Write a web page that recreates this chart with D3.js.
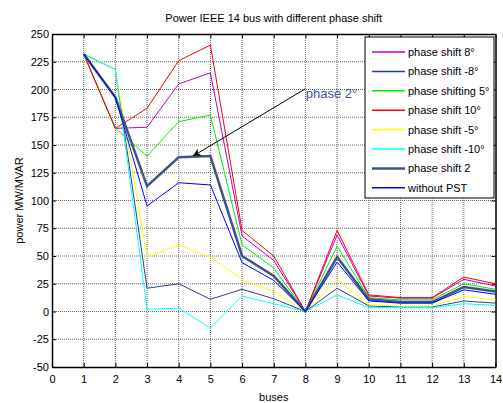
<!DOCTYPE html>
<html>
<head>
<meta charset="utf-8">
<script src="https://cdnjs.cloudflare.com/ajax/libs/d3/7.8.5/d3.min.js"></script>
<style>
  body { margin: 0; background: #fff; }
  svg { font-family: "Liberation Sans", Arial, sans-serif; }
</style>
</head>
<body>
<svg width="503" height="403"></svg>
<script>
// buses 1..14
var buses = [1, 2, 3, 4, 5, 6, 7, 8, 9, 10, 11, 12, 13, 14];

// values (MW/MVAR)
var shift8 = [232, 165, 166, 205, 215, 68, 46, 0, 69, 14, 12, 12, 29, 23];
var shiftM8 = [232, 218, 21, 25, 11, 20, 11.5, 0, 21, 5, 4, 4, 9.5, 7.5];
var shift5 = [232, 165, 140, 171, 177, 60, 39, 0, 59, 12.5, 10.5, 10.5, 25, 20];
var shift10 = [232, 165, 183, 226, 240, 73, 50, 0, 73, 15, 12.5, 12.5, 31, 25];
var shiftM5 = [232, 218, 49, 60, 49, 29, 18, 0, 29, 6, 5, 5, 13.5, 10.5];
var shiftM10 = [232, 218, 2, 3, -15, 14, 7, 0, 15, 3.5, 3.5, 3.5, 7, 5.5];
var shift2 = [232, 193, 113, 139, 140, 50, 32, 0, 49, 11, 8.5, 8.5, 22, 18];
var noPST = [232, 193, 95, 116, 114, 44, 28, 0, 44.5, 9.5, 7.5, 7.5, 19.5, 15.5];

var seriesNames = ["phase shift 8°", "phase shift -8°", "phase shifting 5°", "phase shift 10°",
    "phase shift -5°", "phase shift -10°", "phase shift 2", "without PST"];
var seriesValues = [shift8, shiftM8, shift5, shift10, shiftM5, shiftM10, shift2, noPST];
var seriesColors = ["#c000c0", "#2c3f95", "#00ee00", "#ff0000", "#ffff00", "#00ffff", "#3d5582", "#0000ff"];
var seriesWidths = [1, 1, 1, 1, 1, 1, 2.5, 1];

var xTicks = d3.range(0, 15);
var yTicks = d3.range(-50, 251, 25);

var svg = d3.select("svg"),
    margin = { left: 52, top: 34, right: 7.5, bottom: 36 },
    width = +svg.attr("width") - margin.left - margin.right,
    height = +svg.attr("height") - margin.top - margin.bottom;

var x = d3.scaleLinear().domain([0, 14]).range([0, width]);
var y = d3.scaleLinear().domain([-50, 250]).range([height, 0]);

// plain hyphen for negatives, like the original
var plain = function (d) { return String(d); };

var g = svg.append("g").attr("transform", "translate(" + margin.left + "," + margin.top + ")");

// grid
g.append("g").selectAll("line").data(xTicks.slice(1, -1)).enter().append("line")
    .attr("x1", function (d) { return x(d); }).attr("x2", function (d) { return x(d); })
    .attr("y1", 0).attr("y2", height)
    .attr("stroke", "#666").attr("stroke-width", 1).attr("stroke-dasharray", "1,1");
g.append("g").selectAll("line").data(yTicks.slice(1, -1)).enter().append("line")
    .attr("y1", function (d) { return y(d); }).attr("y2", function (d) { return y(d); })
    .attr("x1", 0).attr("x2", width)
    .attr("stroke", "#666").attr("stroke-width", 1).attr("stroke-dasharray", "1,1");

// axes with inward ticks
var xAxis = g.append("g").attr("transform", "translate(0," + height + ")")
    .call(d3.axisBottom(x).tickValues(xTicks).tickSizeInner(-4).tickSizeOuter(0).tickPadding(8).tickFormat(plain));
var xTop = g.append("g")
    .call(d3.axisTop(x).tickValues(xTicks).tickSizeInner(-4).tickSizeOuter(0).tickFormat(""));
var yAxis = g.append("g")
    .call(d3.axisLeft(y).tickValues(yTicks).tickSizeInner(-4).tickSizeOuter(0).tickPadding(3).tickFormat(plain));
var yRight = g.append("g").attr("transform", "translate(" + width + ",0)")
    .call(d3.axisRight(y).tickValues(yTicks).tickSizeInner(-4).tickSizeOuter(0).tickFormat(""));

[xAxis, xTop, yAxis, yRight].forEach(function (a) {
    a.select(".domain").attr("stroke", "#000").attr("stroke-width", 1.5);
    a.selectAll(".tick line").attr("stroke", "#000");
    a.selectAll("text").attr("font-size", 11).attr("fill", "#000")
        .attr("font-family", "Liberation Sans, Arial, sans-serif");
});

// series
var line = d3.line()
    .x(function (d, i) { return x(buses[i]); })
    .y(function (d) { return y(d); });

seriesValues.forEach(function (vals, i) {
    g.append("path").datum(vals)
        .attr("fill", "none")
        .attr("stroke", seriesColors[i])
        .attr("stroke-width", seriesWidths[i])
        .attr("d", line);
});

// annotation arrow
svg.append("defs").append("marker")
    .attr("id", "head").attr("viewBox", "0 0 10 10")
    .attr("refX", 10).attr("refY", 5)
    .attr("markerWidth", 10).attr("markerHeight", 8)
    .attr("markerUnits", "userSpaceOnUse")
    .attr("orient", "auto")
    .append("path").attr("d", "M0,0 L10,5 L0,10 L3,5 Z").attr("fill", "#000");

g.append("line")
    .attr("x1", x(7.99)).attr("y1", y(200.5))
    .attr("x2", x(4.45)).attr("y2", y(140))
    .attr("stroke", "#000").attr("stroke-width", 1)
    .attr("marker-end", "url(#head)");
g.append("text")
    .attr("x", x(8.01)).attr("y", y(192.5))
    .attr("font-size", 13).attr("fill", "#3d5590")
    .text("phase 2°");

// legend
var legend = svg.append("g").attr("transform", "translate(365,37)");
legend.append("rect")
    .attr("width", 129).attr("height", 161)
    .attr("fill", "#fff").attr("stroke", "#000").attr("stroke-width", 1);
seriesNames.forEach(function (name, i) {
    var ly = 15 + i * 19.4;
    legend.append("line")
        .attr("x1", 7).attr("x2", 40).attr("y1", ly).attr("y2", ly)
        .attr("stroke", seriesColors[i]).attr("stroke-width", seriesWidths[i] === 1 ? 1.5 : 2.5);
    legend.append("text")
        .attr("x", 43).attr("y", ly + 4)
        .attr("font-size", 11).attr("fill", "#000")
        .text(name);
});

// title and labels
svg.append("text")
    .attr("x", margin.left + width / 2).attr("y", 22)
    .attr("text-anchor", "middle").attr("font-size", 11)
    .text("Power IEEE 14 bus with different phase shift");
svg.append("text")
    .attr("x", margin.left + width / 2).attr("y", 401)
    .attr("text-anchor", "middle").attr("font-size", 11)
    .text("buses");
svg.append("text")
    .attr("transform", "translate(23," + (margin.top + height / 2) + ") rotate(-90)")
    .attr("text-anchor", "middle").attr("font-size", 11)
    .text("power MW/MVAR");
</script>
</body>
</html>
